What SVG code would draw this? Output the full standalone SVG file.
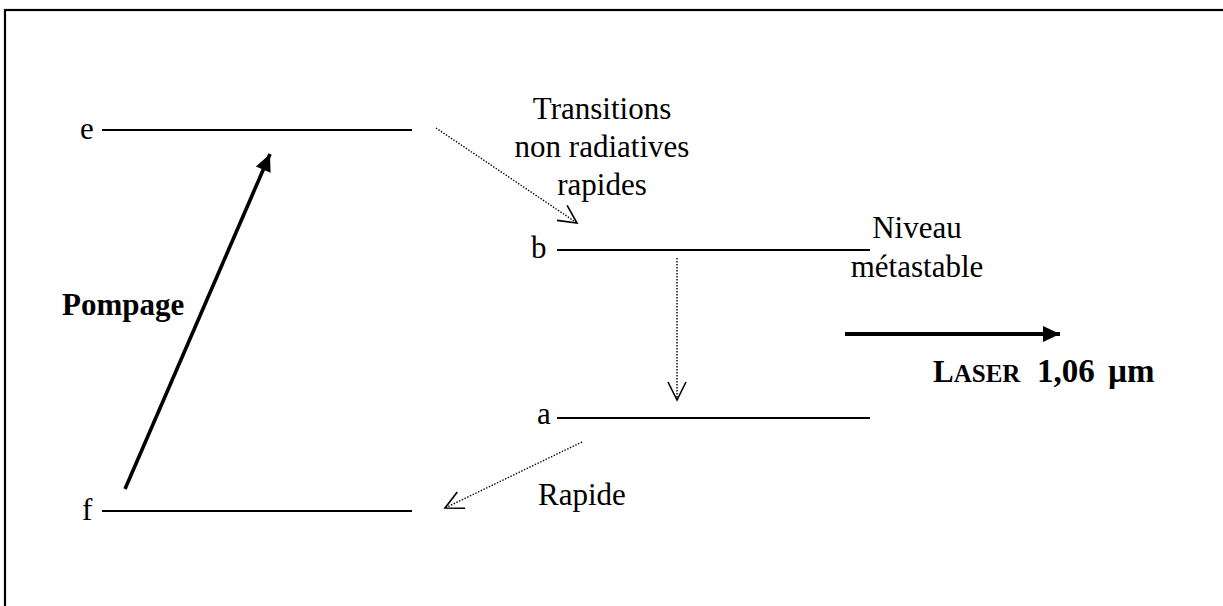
<svg xmlns="http://www.w3.org/2000/svg" width="1223" height="606" viewBox="0 0 1223 606">
<style>
text{font-family:"Liberation Serif","Times New Roman",serif;font-size:31px;fill:#000}
.b{font-weight:bold}
.lvl{stroke:#000;stroke-width:2.2;fill:none}
.dot{stroke:#000;stroke-width:1.4;stroke-dasharray:1.4 1.6;fill:none}
.thick{stroke:#000;fill:none}
</style>
<defs>
<marker id="open" markerUnits="userSpaceOnUse" markerWidth="24" markerHeight="24" viewBox="-20 -12 24 24" refX="0" refY="0" orient="auto">
<path d="M-18,-9 L0,0 L-18,9" fill="none" stroke="#000" stroke-width="1.6"/>
</marker>
<marker id="fill" markerUnits="userSpaceOnUse" markerWidth="24" markerHeight="24" viewBox="-20 -12 24 24" refX="0" refY="0" orient="auto">
<path d="M-17,-8 L0,0 L-17,8 Z" fill="#000"/>
</marker>
</defs>
<rect x="5" y="10" width="1240" height="640" fill="none" stroke="#000" stroke-width="2.2"/>
<g id="level-e"><line class="lvl" x1="102" y1="130" x2="412" y2="130"/><text x="80" y="139">e</text></g>
<g id="level-b"><line class="lvl" x1="557" y1="250" x2="870" y2="250"/><text x="531" y="258">b</text></g>
<g id="level-a"><line class="lvl" x1="557" y1="418" x2="870" y2="418"/><text x="537" y="424">a</text></g>
<g id="level-f"><line class="lvl" x1="102" y1="511" x2="412" y2="511"/><text x="82" y="520">f</text></g>
<g id="label-transitions"><text x="602" y="119" text-anchor="middle">Transitions</text><text x="602" y="157" text-anchor="middle">non radiatives</text><text x="602" y="195" text-anchor="middle">rapides</text></g>
<g id="label-niveau"><text x="917" y="238" text-anchor="middle">Niveau</text><text x="917" y="277" text-anchor="middle">métastable</text></g>
<g id="label-pompage"><text class="b" x="62" y="315">Pompage</text></g>
<g id="label-laser"><text class="b" x="933" y="382">L<tspan style="font-size:25px">ASER</tspan></text><text class="b" x="1037" y="382" style="font-size:33px">1,06</text><text class="b" x="1108" y="382" style="font-size:33px">µm</text></g>
<g id="label-rapide"><text x="538" y="505">Rapide</text></g>
<g id="connectors">
<line class="thick" stroke-width="3.6" x1="125" y1="489" x2="270" y2="154" marker-end="url(#fill)"/>
<line class="thick" stroke-width="4" x1="845" y1="334" x2="1060" y2="334" marker-end="url(#fill)"/>
<line class="dot" x1="436" y1="128" x2="577" y2="223" marker-end="url(#open)"/>
<line class="dot" x1="677" y1="258" x2="677" y2="400" marker-end="url(#open)"/>
<line class="dot" x1="582" y1="442" x2="445" y2="508" marker-end="url(#open)"/>
</g>
</svg>
